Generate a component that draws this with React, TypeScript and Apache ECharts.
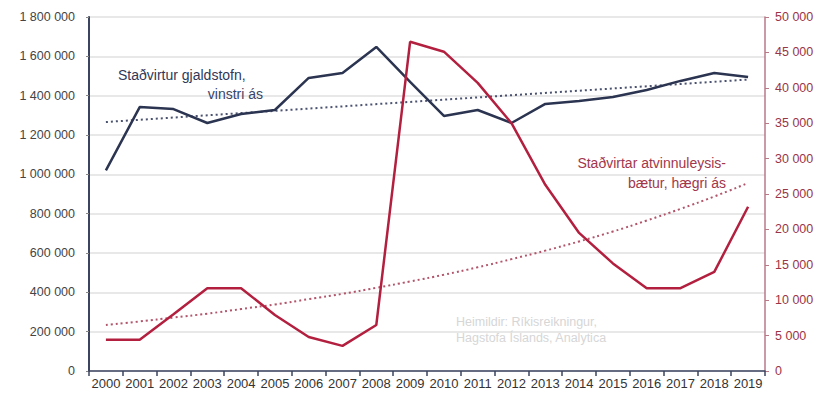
import React, { useEffect, useRef } from "react";
import * as echarts from "echarts";

const years = ["2000","2001","2002","2003","2004","2005","2006","2007","2008","2009","2010","2011","2012","2013","2014","2015","2016","2017","2018","2019"];
const gjaldstofn = [1020000,1342000,1332000,1261000,1307000,1327000,1490000,1515000,1648000,1470000,1297000,1327000,1261000,1358000,1373000,1393000,1429000,1475000,1515000,1495000];
const gjaldstofnTrend = [1266000,null,null,null,null,null,null,null,null,null,null,null,null,null,null,null,null,null,null,1482000];
const baetur = [4400,4400,8000,11700,11700,7900,4800,3550,6500,46500,45100,40700,35000,26300,19500,15200,11700,11700,14000,23200];
const baeturTrend = [6500,7000,7550,8100,8750,9400,10150,10900,11750,12650,13600,14650,15800,17000,18300,19700,21250,22900,24650,26550];
const leftTicks = { min: 0, max: 1800000, interval: 200000 };
const rightTicks = { min: 0, max: 50000, interval: 5000 };

const fmt = (v: number) => String(v).replace(/\B(?=(\d{3})+(?!\d))/g, " ");

const NAVY = "#2b3450";
const RED = "#b3203f";
const RED_LABEL = "#9a3447";
const FONT = "Liberation Sans, Arial, sans-serif";

export default function App() {
  const ref = useRef<HTMLDivElement>(null);
  useEffect(() => {
    if (!ref.current) return;
    const chart = echarts.init(ref.current, null, { renderer: "svg" });
    chart.setOption({
      animation: false,
      backgroundColor: "#ffffff",
      textStyle: { fontFamily: FONT },
      grid: { left: 89, right: 57, top: 17, bottom: 25, containLabel: false },
      xAxis: {
        type: "category",
        data: years,
        boundaryGap: true,
        axisLine: { lineStyle: { color: "#3b4460", width: 1.5 } },
        axisTick: { show: true, length: 5, lineStyle: { color: "#3b4460", width: 1.5 } },
        axisLabel: { color: "#333333", fontSize: 13, margin: 6, interval: 0, fontFamily: FONT },
        splitLine: { show: false },
      },
      yAxis: [
        {
          type: "value",
          ...leftTicks,
          position: "left",
          axisLine: { show: true, lineStyle: { color: "#3b4460", width: 2 } },
          axisTick: { show: true, length: 3, lineStyle: { color: "#888888" } },
          axisLabel: { color: "#444444", fontSize: 12.5, margin: 14, formatter: fmt, fontFamily: FONT },
          splitLine: { show: true, lineStyle: { color: "#e0e0e0", width: 1.5 } },
        },
        {
          type: "value",
          ...rightTicks,
          position: "right",
          axisLine: { show: true, lineStyle: { color: "#b97a88", width: 1.5 } },
          axisTick: { show: true, length: 4, lineStyle: { color: "#b97a88" } },
          axisLabel: { color: RED_LABEL, fontSize: 12.5, margin: 10, formatter: fmt, fontFamily: FONT },
          splitLine: { show: false },
        },
      ],
      series: [
        {
          name: "gjaldstofn trend",
          type: "line",
          yAxisIndex: 0,
          data: gjaldstofnTrend,
          connectNulls: true,
          symbol: "none",
          lineStyle: { color: "#4a5270", width: 2, type: [2, 3] },
          z: 2,
        },
        {
          name: "Staðvirtur gjaldstofn",
          type: "line",
          yAxisIndex: 0,
          data: gjaldstofn,
          symbol: "none",
          lineStyle: { color: NAVY, width: 2.5 },
          z: 3,
        },
        {
          name: "baetur trend",
          type: "line",
          yAxisIndex: 1,
          data: baeturTrend,
          symbol: "none",
          smooth: true,
          lineStyle: { color: "#b2546a", width: 2, type: [2, 3] },
          z: 4,
        },
        {
          name: "Staðvirtar atvinnuleysisbætur",
          type: "line",
          yAxisIndex: 1,
          data: baetur,
          symbol: "none",
          lineStyle: { color: RED, width: 2.5 },
          z: 5,
        },
      ],
      graphic: [
        {
          type: "text",
          left: 118,
          top: 68,
          z: 10,
          style: { text: "Staðvirtur gjaldstofn,", fill: "#2f3858", font: `14px ${FONT}` },
        },
        {
          type: "text",
          right: 822 - 263,
          top: 87,
          z: 10,
          style: { text: "vinstri ás", fill: "#3a4468", font: `14px ${FONT}`, align: "right" },
        },
        {
          type: "text",
          right: 822 - 726,
          top: 156,
          z: 10,
          style: { text: "Staðvirtar atvinnuleysis-", fill: "#a2364b", font: `14px ${FONT}`, align: "right" },
        },
        {
          type: "text",
          right: 822 - 726,
          top: 176,
          z: 10,
          style: { text: "bætur, hægri ás", fill: "#a2364b", font: `14px ${FONT}`, align: "right" },
        },
        {
          type: "text",
          left: 456,
          top: 315,
          z: 10,
          style: { text: "Heimildir: Ríkisreikningur,", fill: "#d6d6d6", font: `12.5px ${FONT}` },
        },
        {
          type: "text",
          left: 456,
          top: 331,
          z: 10,
          style: { text: "Hagstofa Íslands, Analytica", fill: "#d6d6d6", font: `12.5px ${FONT}` },
        },
      ],
    });
    return () => chart.dispose();
  }, []);
  return (
    <div
      ref={ref}
      style={{ position: "absolute", left: 0, top: 0, width: 822, height: 396 }}
    />
  );
}
